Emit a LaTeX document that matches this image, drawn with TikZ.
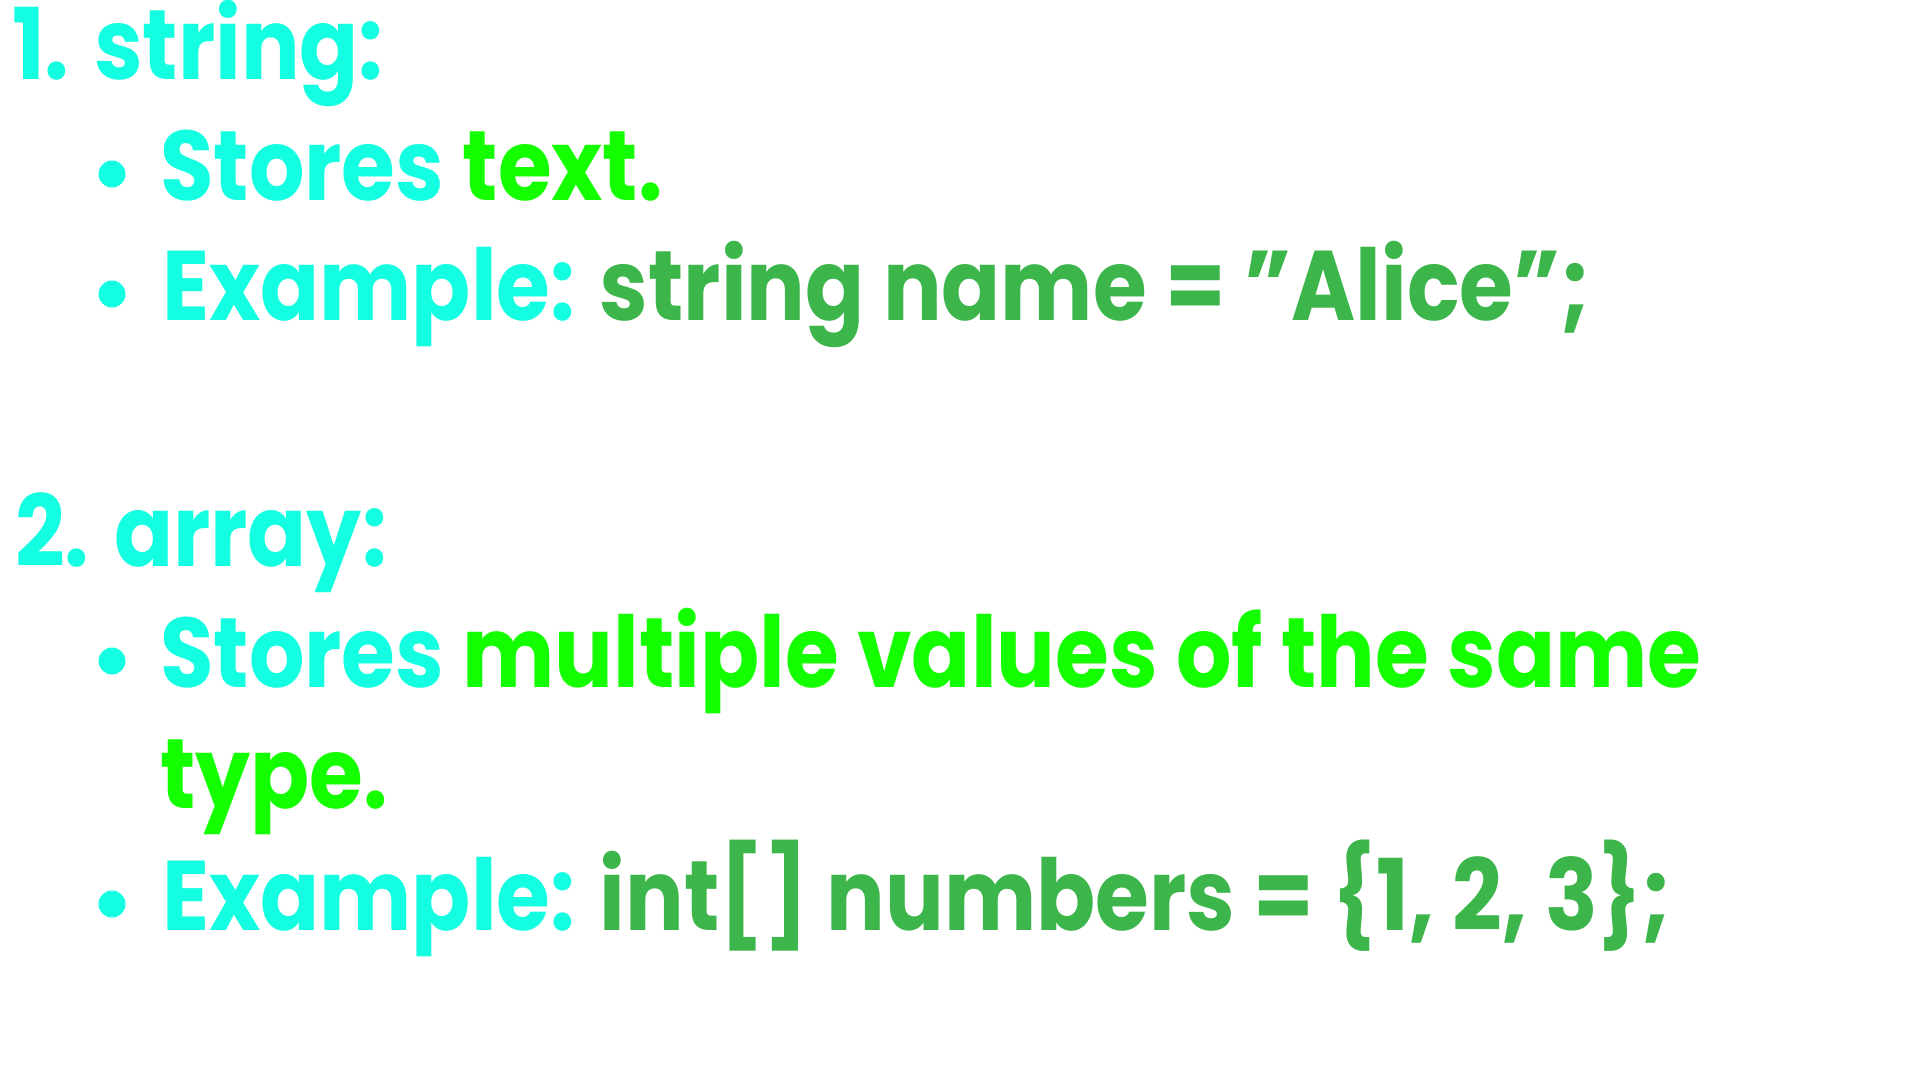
\documentclass[tikz,border=0pt]{standalone}
\usepackage{fontspec}
\setmainfont{Poppins}[FakeStretch=0.88]
\definecolor{termcyan}{HTML}{14FFE1}
\definecolor{termlime}{HTML}{14FF00}
\definecolor{termgreen}{HTML}{3CB54B}

\begin{document}
\begin{tikzpicture}[x=1pt,y=-1pt,
  every node/.style={inner sep=0pt,anchor=base west,font=\fontsize{99}{120}\selectfont\bfseries},
  dot/.style={circle,fill=termcyan,minimum size=27pt,anchor=center}]
\useasboundingbox (0,0) rectangle (1920,1080);
\fill[white] (0,0) rectangle (1920,1080);

\node[text=termcyan] (head1) at (12,79) {1. string:};
\node[dot] (b1) at (112,174) {};
\node (l1) at (160,200) {\color{termcyan}Stores \color{termlime}text.};
\node[dot] (b2) at (112,294) {};
\node (l2) at (162,320) {\color{termcyan}Example: \color{termgreen}string name = "Alice";};

\node[text=termcyan] (head2) at (15,566) {2. array:};
\node[dot] (b3) at (112,661) {};
\node (l3) at (160,687) {\color{termcyan}Stores \color{termlime}multiple values of the same};
\node[text=termlime] (l4) at (160,808) {type.};
\node[dot] (b4) at (112,904) {};
\node (l5) at (162,930) {\color{termcyan}Example: \color{termgreen}int[] numbers = \{1, 2, 3\};};
\end{tikzpicture}
\end{document}
